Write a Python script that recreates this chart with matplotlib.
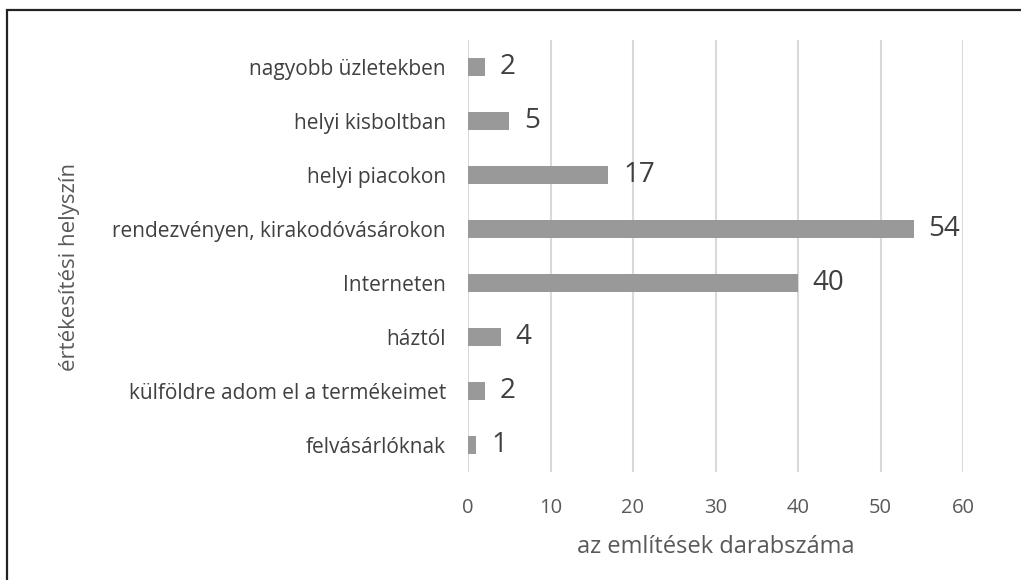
import matplotlib
matplotlib.use("Agg")
import matplotlib.pyplot as plt
from matplotlib.patches import Rectangle

categories = ["nagyobb üzletekben", "helyi kisboltban", "helyi piacokon",
              "rendezvényen, kirakodóvásárokon", "Interneten", "háztól",
              "külföldre adom el a termékeimet", "felvásárlóknak"]
values = [2, 5, 17, 54, 40, 4, 2, 1]
xticks = [0, 10, 20, 30, 40, 50, 60]
xlabel = "az említések darabszáma"
ylabel = "értékesítési helyszín"

plt.rcParams['font.family'] = ['Open Sans', 'DejaVu Sans']
W, H = 1021, 580
fig = plt.figure(figsize=(W/100, H/100), dpi=100)
ax = fig.add_axes([468/W, 1-472/H, (963-468)/W, (472-40)/H])

n = len(categories)
ypos = list(range(n))[::-1]
ax.barh(ypos, values, height=0.35, color="#999999", zorder=3)
for y, v in zip(ypos, values):
    ax.text(v + 1.8, y, str(v), va="center", ha="left", fontsize=20, color="#404040")

ax.set_xlim(0, 60)
ax.set_ylim(-0.5, n - 0.5)
ax.set_xticks(xticks)
ax.set_xticklabels([str(t) for t in xticks], fontsize=14.5, color="#595959")
ax.set_yticks(ypos)
ax.set_yticklabels(categories, fontsize=15, color="#404040")
ax.tick_params(axis="both", length=0)
ax.tick_params(axis="x", pad=19)
ax.tick_params(axis="y", pad=16)
ax.grid(axis="x", color="#d9d9d9", linewidth=1.5, zorder=0)
for s in ax.spines.values():
    s.set_visible(False)

ax.set_xlabel(xlabel, fontsize=17, color="#595959", labelpad=12)
fig.text(70/W, 1-267/H, ylabel, rotation=90, fontsize=16, color="#595959",
         ha="center", va="center")

fig.patches.append(Rectangle((7/W, -0.1), 1.2, 1 - 10/H + 0.1,
                             transform=fig.transFigure, fill=False,
                             edgecolor="#222222", linewidth=1.6))

fig.savefig("out.png", dpi=100)
